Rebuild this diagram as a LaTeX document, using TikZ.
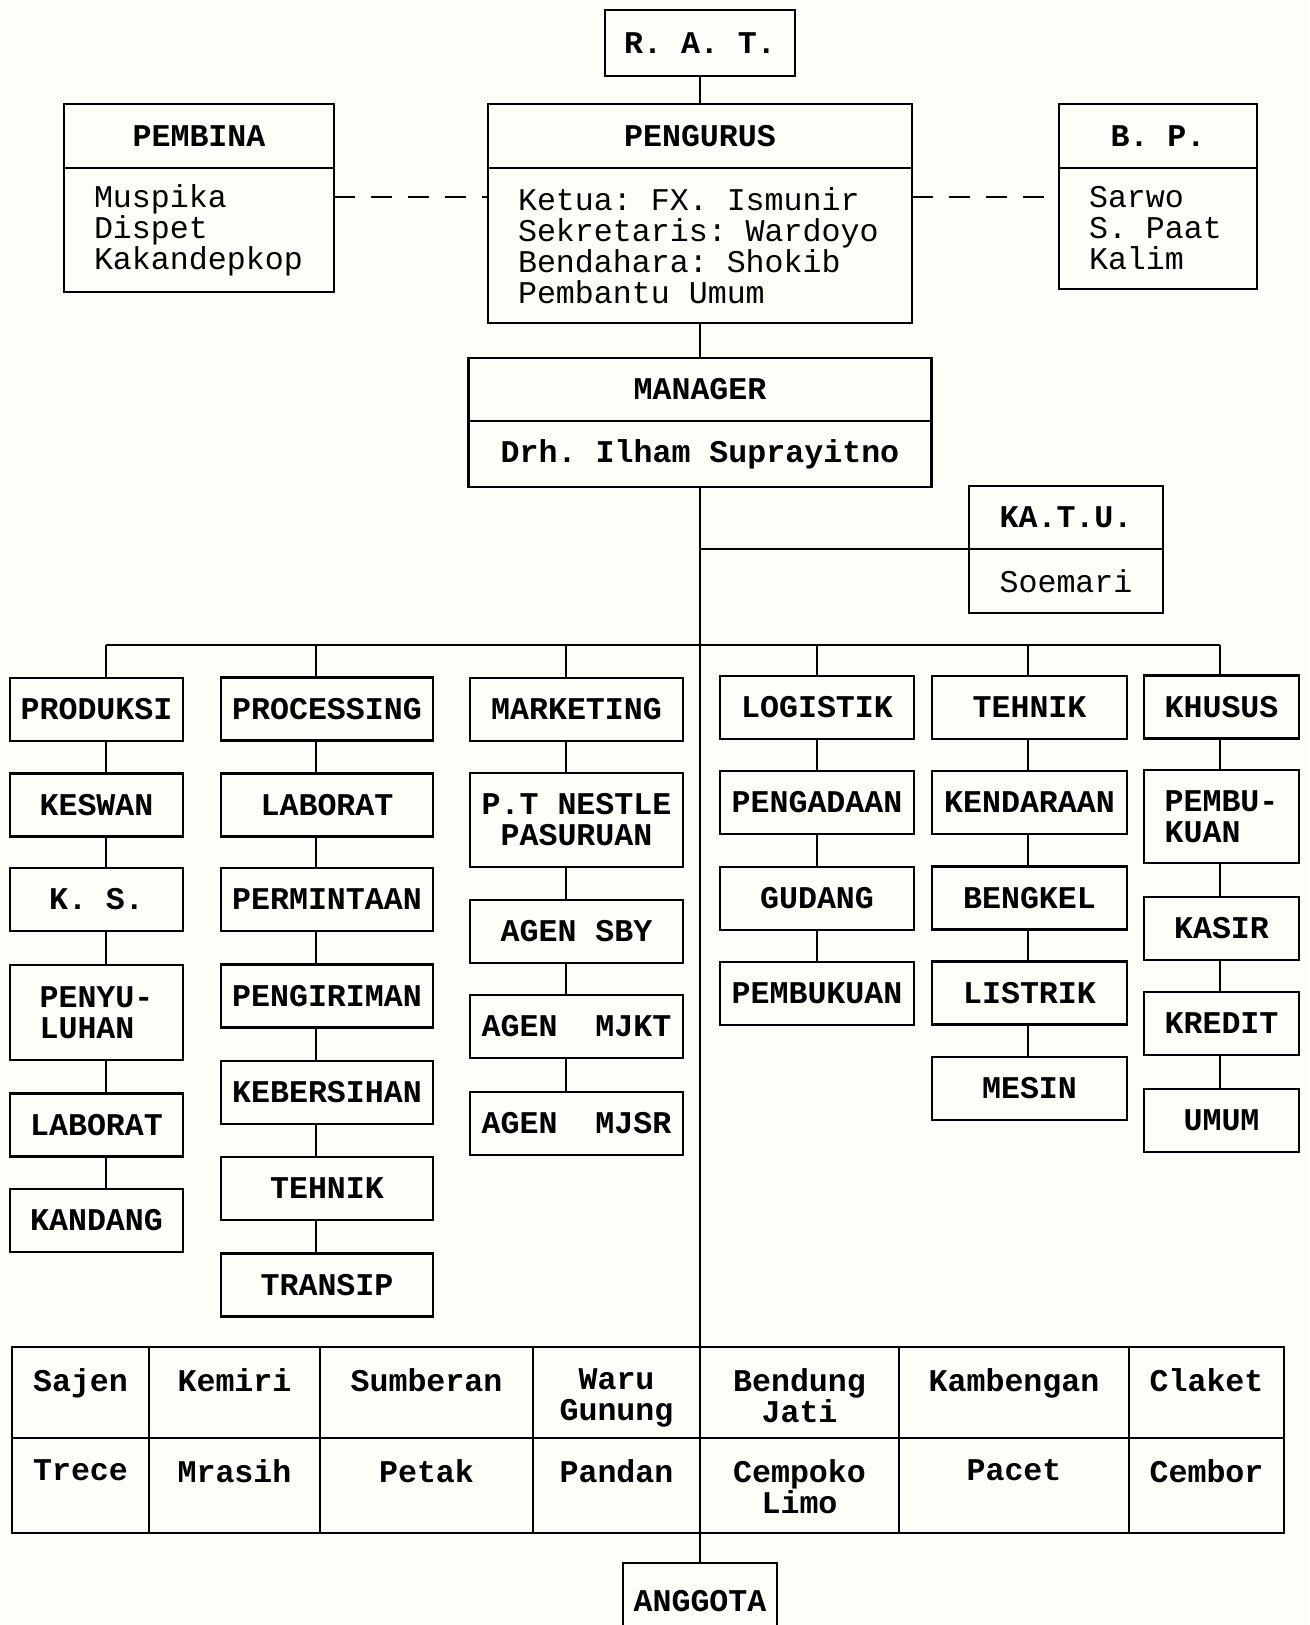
\documentclass[tikz,border=0pt]{standalone}
\usepackage{fontspec}
\setmonofont{Liberation Mono}
\usepackage{tikz}
\usetikzlibrary{positioning}
\definecolor{paper}{RGB}{254,253,247}
\frenchspacing

\begin{document}
\begin{tikzpicture}[x=0.02cm, y=-0.02cm,
    post/.style={draw, line width=1.5pt, outer sep=0pt, inner sep=2pt, align=center,
      minimum height=1.26cm, font=\ttfamily\bfseries\fontsize{18pt}{17.6pt}\selectfont},
    list/.style={post, align=flush left, inner xsep=0.6cm, font=\ttfamily\fontsize{18pt}{17.6pt}\selectfont},
    cell/.style={draw, line width=1.5pt, outer sep=0pt, inner sep=0pt},
    vil/.style={anchor=north, yshift=-12pt, inner sep=0pt, align=center,
      font=\ttfamily\bfseries\fontsize{18pt}{17.6pt}\selectfont},
    link/.style={line width=1pt},
    putus/.style={link, dash pattern=on 12pt off 9pt},
    col1/.style={post, minimum width=3.46cm},
    col2/.style={post, minimum width=4.24cm},
    col3/.style={post, minimum width=4.26cm},
    col4/.style={post, minimum width=3.88cm},
    col5/.style={post, minimum width=3.9cm},
    col6/.style={post, minimum width=3.1cm}]
  \useasboundingbox (0,0) rectangle (1309,1625);
  \clip (0,0) rectangle (1309,1625);
  \fill[paper] (0,0) rectangle (1309,1625);

  \node[post, minimum width=3.8cm, minimum height=1.32cm] (rat) at (700,43) {R. A. T.};
  \node[post, minimum width=5.4cm, minimum height=1.28cm] (pembina) at (199,136) {PEMBINA};
  \node[list, text width=4.2cm, minimum height=2.48cm, below=0pt of pembina] (pembinaIsi) {Muspika\\Dispet\\Kakandepkop};
  \node[post, minimum width=8.48cm, minimum height=1.28cm] (pengurus) at (700,136) {PENGURUS};
  \node[list, text width=7.28cm, minimum height=3.1cm, below=0pt of pengurus] (pengurusIsi) {Ketua: FX. Ismunir\\Sekretaris: Wardoyo\\Bendahara: Shokib\\Pembantu Umum};
  \node[post, minimum width=3.96cm, minimum height=1.28cm] (bp) at (1158,136) {B. P.};
  \node[list, text width=2.76cm, minimum height=2.42cm, below=0pt of bp] (bpIsi) {Sarwo\\S. Paat\\Kalim};
  \node[post, minimum width=9.26cm, minimum height=1.26cm] (manager) at (700,389.5) {MANAGER};
  \node[post, minimum width=9.26cm, minimum height=1.32cm, below=0pt of manager] (managerIsi) {Drh. Ilham Suprayitno};
  \node[post, minimum width=3.88cm, minimum height=1.26cm] (katu) at (1066,517.5) {KA.T.U.};
  \node[post, minimum width=3.88cm, minimum height=1.28cm, below=0pt of katu,
    font=\ttfamily\fontsize{18pt}{17.6pt}\selectfont] (katuIsi) {Soemari};

  \node[col1] (produksi) at (96.5,709.5) {PRODUKSI};
  \node[col1] (keswan) at (96.5,805) {KESWAN};
  \node[col1] (ks) at (96.5,899.5) {K. S.};
  \node[col1, minimum height=1.9cm, align=left] (penyuluhan) at (96.5,1012.5) {PENYU-\\LUHAN};
  \node[col1] (laboratA) at (96.5,1125) {LABORAT};
  \node[col1] (kandang) at (96.5,1220.5) {KANDANG};

  \node[col2] (processing) at (327,709) {PROCESSING};
  \node[col2] (laboratB) at (327,805) {LABORAT};
  \node[col2] (permintaan) at (327,899.5) {PERMINTAAN};
  \node[col2] (pengiriman) at (327,996) {PENGIRIMAN};
  \node[col2] (kebersihan) at (327,1092.5) {KEBERSIHAN};
  \node[col2] (tehnikA) at (327,1188.5) {TEHNIK};
  \node[col2] (transip) at (327,1285) {TRANSIP};

  \node[col3] (marketing) at (576.5,709.5) {MARKETING};
  \node[col3, minimum height=1.88cm] (nestle) at (576.5,820) {P.T NESTLE\\PASURUAN};
  \node[col3] (sby) at (576.5,931.5) {AGEN SBY};
  \node[col3] (mjkt) at (576.5,1026.5) {AGEN\ \ MJKT};
  \node[col3] (mjsr) at (576.5,1123.5) {AGEN\ \ MJSR};

  \node[col4] (logistik) at (817,707.5) {LOGISTIK};
  \node[col4] (pengadaan) at (817,802.5) {PENGADAAN};
  \node[col4] (gudang) at (817,898.5) {GUDANG};
  \node[col4] (pembukuanA) at (817,993.5) {PEMBUKUAN};

  \node[col5] (tehnikB) at (1029.5,707.5) {TEHNIK};
  \node[col5] (kendaraan) at (1029.5,802.5) {KENDARAAN};
  \node[col5] (bengkel) at (1029.5,898) {BENGKEL};
  \node[col5] (listrik) at (1029.5,993) {LISTRIK};
  \node[col5] (mesin) at (1029.5,1088.5) {MESIN};

  \node[col6] (khusus) at (1221.5,707) {KHUSUS};
  \node[col6, minimum height=1.86cm, align=left] (pembukuanB) at (1221.5,816.5) {PEMBU-\\KUAN};
  \node[col6] (kasir) at (1221.5,928.5) {KASIR};
  \node[col6] (kredit) at (1221.5,1023.5) {KREDIT};
  \node[col6] (umum) at (1221.5,1120.5) {UMUM};

  \foreach \n/\x/\w/\txt in {sajen/80.5/2.74/Sajen, kemiri/234.5/3.42/Kemiri, sumberan/426.5/4.26/Sumberan,
      waru/616.5/3.34/{Waru\\Gunung}, bendung/799.5/3.98/{Bendung\\Jati}, kambengan/1014/4.6/Kambengan,
      claket/1206.5/3.1/Claket} {
    \node[cell, minimum width=\w cm, minimum height=1.82cm] (\n) at (\x,1392.5) {};
    \node[vil] (t\n) at (\n.north) {\txt};
  }
  \foreach \n/\x/\w/\txt in {trece/80.5/2.74/Trece, mrasih/234.5/3.42/Mrasih, petak/426.5/4.26/Petak,
      pandan/616.5/3.34/Pandan, cempoko/799.5/3.98/{Cempoko\\Limo}, pacet/1014/4.6/Pacet,
      cembor/1206.5/3.1/Cembor} {
    \node[cell, minimum width=\w cm, minimum height=1.9cm] (\n) at (\x,1485.5) {};
    \node[vil] (t\n) at (\n.north) {\txt};
  }
  \node[post, minimum width=3.08cm, minimum height=1.52cm] (anggota) at (700,1601) {ANGGOTA};

  \draw[link] (rat) -- (pengurus);
  \draw[link] (pengurusIsi) -- (manager);
  \coordinate (garis) at (0,197);
  \draw[putus] (pembinaIsi.east |- garis) -- (pengurusIsi.west |- garis);
  \draw[putus] (pengurusIsi.east |- garis) -- (bpIsi.west |- garis);
  \draw[link] (managerIsi) -- (anggota);
  \draw[link] (katu.south west) -- (katu.south west -| managerIsi.south);

  \coordinate (c1) at (106,645);
  \coordinate (c2) at (316,645);
  \coordinate (c3) at (566,645);
  \coordinate (c4) at (817,645);
  \coordinate (c5) at (1028,645);
  \coordinate (c6) at (1220,645);
  \draw[link] (c1) -- (c6);
  \foreach \c/\h in {c1/produksi, c2/processing, c3/marketing, c4/logistik, c5/tehnikB, c6/khusus}
    \draw[link] (\c) -- (\c |- \h.north);
  \foreach \a/\b in {produksi/keswan, keswan/ks, ks/penyuluhan, penyuluhan/laboratA, laboratA/kandang}
    \draw[link] (c1 |- \a.south) -- (c1 |- \b.north);
  \foreach \a/\b in {processing/laboratB, laboratB/permintaan, permintaan/pengiriman, pengiriman/kebersihan, kebersihan/tehnikA, tehnikA/transip}
    \draw[link] (c2 |- \a.south) -- (c2 |- \b.north);
  \foreach \a/\b in {marketing/nestle, nestle/sby, sby/mjkt, mjkt/mjsr}
    \draw[link] (c3 |- \a.south) -- (c3 |- \b.north);
  \foreach \a/\b in {logistik/pengadaan, pengadaan/gudang, gudang/pembukuanA}
    \draw[link] (c4 |- \a.south) -- (c4 |- \b.north);
  \foreach \a/\b in {tehnikB/kendaraan, kendaraan/bengkel, bengkel/listrik, listrik/mesin}
    \draw[link] (c5 |- \a.south) -- (c5 |- \b.north);
  \foreach \a/\b in {khusus/pembukuanB, pembukuanB/kasir, kasir/kredit, kredit/umum}
    \draw[link] (c6 |- \a.south) -- (c6 |- \b.north);
\end{tikzpicture}
\end{document}
